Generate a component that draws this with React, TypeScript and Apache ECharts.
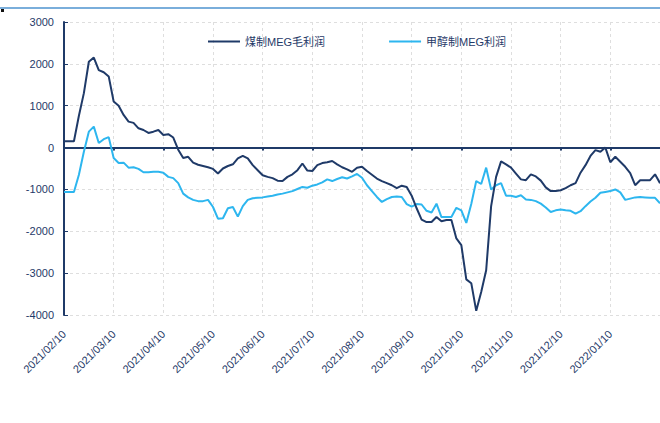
import React, { useEffect, useRef } from "react";
import * as echarts from "echarts";

// Month anchors (tick labels fall on the 10th of each month)
const monthLabels = [
  "2021/02", "2021/03", "2021/04", "2021/05", "2021/06", "2021/07",
  "2021/08", "2021/09", "2021/10", "2021/11", "2021/12", "2022/01", "2022/02",
];
// sampling days inside each month period (10th of month .. 7th of next)
const dayOffsets = ["10", "13", "16", "19", "22", "25", "28", "+01", "+04", "+07"];

const coalName = "煤制MEG毛利润";
const methanolName = "甲醇制MEG利润";

const coalProfit = [
  150, 150, 150, 760, 1300, 2050, 2150, 1850, 1800, 1700,
  1100, 1000, 780, 620, 590, 460, 420, 350, 380, 420,
  300, 320, 240, -50, -250, -220, -360, -410, -440, -470,
  -510, -620, -500, -440, -400, -260, -200, -260, -420, -540,
  -660, -700, -730, -790, -800, -700, -640, -540, -380, -550,
  -560, -420, -370, -350, -320, -400, -470, -520, -580, -480,
  -460, -560, -650, -740, -800, -850, -900, -970, -910, -940,
  -1150, -1450, -1720, -1780, -1780, -1660, -1760, -1730, -1730, -2170,
  -2330, -3150, -3240, -3900, -3450, -2930, -1400, -700, -330, -400,
  -480, -620, -760, -780, -640, -690, -790, -950, -1040, -1040,
  -1020, -970, -900, -850, -600, -420, -200, -60, -100, 0,
  -350, -220, -340, -460, -610, -900, -780, -780, -780, -640,
  -850,
];

const methanolProfit = [
  -1060, -1060, -1060, -650, -100, 380, 500, 110, 200, 250,
  -250, -370, -360, -480, -470, -510, -590, -590, -580, -580,
  -600, -700, -730, -850, -1100, -1190, -1250, -1280, -1280, -1250,
  -1420, -1700, -1690, -1450, -1420, -1650, -1400, -1250, -1210, -1200,
  -1190, -1170, -1150, -1120, -1100, -1070, -1040, -990, -940, -960,
  -910, -880, -830, -760, -800, -750, -710, -740, -690, -630,
  -720, -900, -1040, -1180, -1300, -1230, -1180, -1170, -1180, -1350,
  -1410, -1350, -1360, -1510, -1550, -1340, -1660, -1660, -1660, -1440,
  -1500, -1800, -1350, -800, -870, -480, -1000, -900, -850, -1150,
  -1150, -1180, -1140, -1240, -1250, -1280, -1340, -1430, -1540, -1500,
  -1480, -1500, -1510, -1580, -1520, -1400, -1290, -1200, -1080, -1060,
  -1040, -1000, -1070, -1250, -1220, -1190, -1180, -1190, -1200, -1200,
  -1330,
];

function buildCategories(): string[] {
  const out: string[] = [];
  for (let m = 0; m < monthLabels.length - 1; m++) {
    for (const d of dayOffsets) {
      if (d.startsWith("+")) out.push(monthLabels[m + 1] + "/" + d.slice(1));
      else out.push(monthLabels[m] + "/" + d);
    }
  }
  out.push(monthLabels[monthLabels.length - 1] + "/10");
  return out;
}

const NAVY = "#1f3a68";
const LIGHT = "#2db6ef";
const FONT = "'Liberation Sans', Arial, 'Noto Sans CJK SC', sans-serif";

export default function App() {
  const ref = useRef<HTMLDivElement>(null);
  useEffect(() => {
    document.body.style.margin = "0";
    if (!ref.current) return;
    const chart = echarts.init(ref.current, undefined, { renderer: "svg" });
    const categories = buildCategories();
    const labelInterval = (idx: number) => idx % 10 === 0 && idx < categories.length - 1;
    chart.setOption({
      animation: false,
      backgroundColor: "#ffffff",
      textStyle: { fontFamily: FONT },
      legend: {
        left: 203,
        top: 31,
        icon: "rect",
        itemWidth: 32,
        itemHeight: 2,
        itemGap: 64,
        textStyle: { color: NAVY, fontSize: 11, fontFamily: FONT },
        data: [coalName, methanolName],
      },
      grid: { left: 64, right: 0, top: 22, bottom: 108 },
      xAxis: [
        {
          type: "category",
          data: categories,
          boundaryGap: false,
          position: "bottom",
          axisLine: { show: false, onZero: false },
          axisTick: { show: false },
          axisLabel: {
            interval: labelInterval,
            rotate: 45,
            color: NAVY,
            fontSize: 11,
            margin: 17,
            fontFamily: FONT,
          },
          splitLine: {
            show: true,
            interval: labelInterval,
            lineStyle: { color: "#dedede", type: [3, 3], width: 1 },
          },
        },
        {
          type: "category",
          data: categories,
          boundaryGap: false,
          position: "bottom",
          axisLine: { show: true, onZero: true, lineStyle: { color: NAVY, width: 2 } },
          axisTick: {
            show: true,
            interval: labelInterval,
            length: 3,
            lineStyle: { color: NAVY, width: 2 },
          },
          axisLabel: { show: false },
          splitLine: { show: false },
        },
      ],
      yAxis: {
        type: "value",
        min: -4000,
        max: 3000,
        interval: 1000,
        axisLine: { show: true, lineStyle: { color: NAVY, width: 2 } },
        axisTick: { show: true, inside: true, length: 4, lineStyle: { color: NAVY, width: 1 } },
        axisLabel: {
          color: NAVY,
          fontSize: 11,
          margin: 10,
          fontFamily: FONT,
          formatter: (v: number) => String(v),
        },
        splitLine: { show: true, lineStyle: { color: "#dedede", type: [3, 3], width: 1 } },
      },
      series: [
        {
          name: coalName,
          type: "line",
          data: coalProfit,
          showSymbol: false,
          symbol: "none",
          lineStyle: { color: NAVY, width: 2 },
          itemStyle: { color: NAVY },
          z: 3,
        },
        {
          name: methanolName,
          type: "line",
          data: methanolProfit,
          showSymbol: false,
          symbol: "none",
          lineStyle: { color: LIGHT, width: 2 },
          itemStyle: { color: LIGHT },
          z: 2,
        },
      ],
      graphic: [
        {
          type: "line",
          shape: { x1: 0, y1: 8, x2: 660, y2: 8 },
          style: { stroke: "#7aaedb", lineWidth: 2 },
        },
        {
          type: "rect",
          shape: { x: 1, y: 9, width: 3, height: 3 },
          style: { fill: "#111111" },
        },
      ],
    });
    return () => chart.dispose();
  }, []);
  return <div ref={ref} style={{ width: 660, height: 423 }} />;
}
